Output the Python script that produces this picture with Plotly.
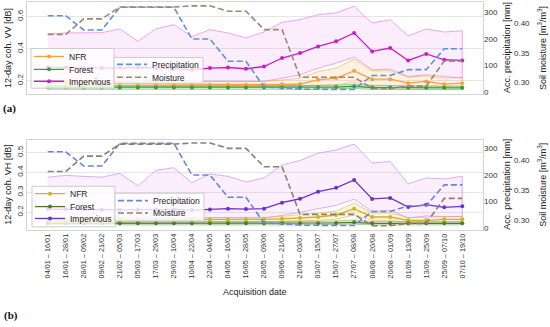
import plotly.graph_objects as go

W, H = 550, 327
FONT = "Liberation Sans, Arial, sans-serif"

categories = ["04/01 – 16/01", "16/01 – 28/01", "28/01 – 09/02", "09/02 – 21/02",
              "21/02 – 05/03", "05/03 – 17/03", "17/03 – 29/03", "29/03 – 10/04",
              "10/04 – 22/04", "22/04 – 04/05", "04/05 – 16/05", "16/05 – 28/05",
              "28/05 – 09/06", "09/06 – 21/06", "21/06 – 03/07", "03/07 – 15/07",
              "15/07 – 27/07", "27/07 – 08/08", "08/08 – 20/08", "20/08 – 01/09",
              "01/09 – 13/09", "13/09 – 25/09", "25/09 – 07/10", "07/10 – 19/10"]

precipitation = [288, 288, 234, 234, 320, 320, 320, 320, 200, 200, 116, 116,
                 18, 16, 10, 9, 9, 9, 62, 62, 84, 84, 163, 163]
moisture = [0.381, 0.381, 0.407, 0.407, 0.427, 0.427, 0.427, 0.427, 0.429, 0.429, 0.420, 0.420,
            0.389, 0.389, 0.309, 0.309, 0.309, 0.309, 0.290, 0.290, 0.294, 0.294, 0.336, 0.336]

# VV coherence (a)
vv_nfr = [0.187, 0.186, 0.185, 0.184, 0.182, 0.180, 0.179, 0.178, 0.177, 0.176, 0.175, 0.175,
          0.176, 0.178, 0.180, 0.206, 0.217, 0.262, 0.210, 0.210, 0.185, 0.196, 0.179, 0.185]
vv_nfr_hi = [0.201, 0.200, 0.200, 0.199, 0.198, 0.197, 0.196, 0.196, 0.196, 0.196, 0.195, 0.195,
             0.197, 0.205, 0.217, 0.258, 0.279, 0.335, 0.262, 0.264, 0.223, 0.231, 0.217, 0.223]
vv_nfr_lo = [0.170, 0.170, 0.169, 0.168, 0.167, 0.166, 0.166, 0.165, 0.165, 0.165, 0.164, 0.164,
             0.165, 0.166, 0.168, 0.172, 0.176, 0.190, 0.172, 0.172, 0.167, 0.170, 0.166, 0.167]
vv_forest = [0.160, 0.160, 0.159, 0.158, 0.158, 0.158, 0.158, 0.158, 0.158, 0.158, 0.158, 0.158,
             0.158, 0.159, 0.159, 0.160, 0.161, 0.166, 0.158, 0.158, 0.158, 0.156, 0.156, 0.156]
vv_forest_hi = [0.170, 0.170, 0.169, 0.168, 0.168, 0.168, 0.168, 0.168, 0.168, 0.168, 0.168, 0.168,
                0.168, 0.169, 0.170, 0.171, 0.173, 0.179, 0.169, 0.169, 0.168, 0.166, 0.166, 0.166]
vv_forest_lo = [0.148, 0.148, 0.147, 0.146, 0.146, 0.146, 0.146, 0.146, 0.146, 0.146, 0.146, 0.146,
                0.146, 0.147, 0.147, 0.148, 0.149, 0.153, 0.146, 0.146, 0.146, 0.145, 0.145, 0.145]
vv_imp = [0.285, 0.283, 0.280, 0.279, 0.281, 0.283, 0.280, 0.274, 0.269, 0.279, 0.283, 0.275,
          0.289, 0.342, 0.373, 0.414, 0.446, 0.498, 0.383, 0.404, 0.327, 0.367, 0.331, 0.327]
vv_imp_hi = [0.492, 0.498, 0.499, 0.500, 0.523, 0.446, 0.523, 0.550, 0.475, 0.519, 0.498, 0.467,
             0.504, 0.564, 0.581, 0.612, 0.623, 0.664, 0.560, 0.580, 0.480, 0.523, 0.504, 0.512]
vv_imp_lo = [0.195, 0.196, 0.196, 0.197, 0.198, 0.195, 0.196, 0.197, 0.196, 0.197, 0.198, 0.197,
             0.196, 0.217, 0.237, 0.279, 0.310, 0.348, 0.269, 0.273, 0.227, 0.237, 0.227, 0.217]

# VH coherence (b)
vh_nfr = [0.160, 0.160, 0.160, 0.160, 0.160, 0.160, 0.160, 0.160, 0.160, 0.161, 0.162, 0.162,
          0.163, 0.166, 0.170, 0.175, 0.185, 0.217, 0.175, 0.175, 0.158, 0.158, 0.163, 0.163]
vh_nfr_hi = [0.170, 0.170, 0.170, 0.170, 0.170, 0.170, 0.170, 0.170, 0.170, 0.171, 0.172, 0.172,
             0.173, 0.178, 0.185, 0.195, 0.205, 0.245, 0.195, 0.195, 0.172, 0.175, 0.178, 0.178]
vh_nfr_lo = [0.149, 0.149, 0.149, 0.149, 0.149, 0.149, 0.149, 0.149, 0.149, 0.150, 0.150, 0.150,
             0.151, 0.153, 0.155, 0.158, 0.163, 0.185, 0.158, 0.158, 0.148, 0.148, 0.151, 0.151]
vh_forest = [0.143, 0.143, 0.143, 0.143, 0.143, 0.143, 0.143, 0.143, 0.143, 0.143, 0.143, 0.143,
             0.143, 0.143, 0.143, 0.144, 0.145, 0.148, 0.143, 0.143, 0.143, 0.143, 0.143, 0.143]
vh_forest_hi = [0.151, 0.151, 0.151, 0.151, 0.151, 0.151, 0.151, 0.151, 0.151, 0.151, 0.151, 0.151,
                0.151, 0.152, 0.152, 0.153, 0.155, 0.160, 0.152, 0.152, 0.151, 0.151, 0.151, 0.151]
vh_forest_lo = [0.135, 0.135, 0.135, 0.135, 0.135, 0.135, 0.135, 0.135, 0.135, 0.135, 0.135, 0.135,
                0.135, 0.135, 0.135, 0.136, 0.137, 0.139, 0.135, 0.135, 0.135, 0.135, 0.135, 0.135]
vh_imp = [0.215, 0.215, 0.214, 0.212, 0.211, 0.212, 0.213, 0.213, 0.210, 0.213, 0.217, 0.215,
          0.217, 0.247, 0.267, 0.303, 0.322, 0.362, 0.266, 0.271, 0.225, 0.237, 0.224, 0.229]
vh_imp_hi = [0.376, 0.385, 0.380, 0.376, 0.395, 0.332, 0.410, 0.424, 0.347, 0.393, 0.380, 0.352,
             0.372, 0.438, 0.460, 0.497, 0.513, 0.543, 0.447, 0.455, 0.342, 0.372, 0.367, 0.380]
vh_imp_lo = [0.172, 0.172, 0.171, 0.171, 0.171, 0.171, 0.171, 0.171, 0.171, 0.171, 0.171, 0.171,
             0.170, 0.183, 0.198, 0.217, 0.233, 0.265, 0.203, 0.208, 0.170, 0.180, 0.177, 0.178]

idx = list(range(len(categories)))


def px(x):
    return x / W


def py(y):
    return 1 - y / H


fig = go.Figure()


def band(hi, lo, fill, edge, xa, ya):
    fig.add_trace(go.Scatter(x=idx + idx[::-1], y=hi + lo[::-1], mode="lines", fill="toself",
                             fillcolor=fill, line=dict(color=edge, width=0.8),
                             showlegend=False, hoverinfo="skip", xaxis=xa, yaxis=ya))


def mean_line(vals, name, color, xa, ya, leg):
    fig.add_trace(go.Scatter(x=idx, y=vals, mode="lines+markers", name=name,
                             line=dict(color=color, width=1.3),
                             marker=dict(color=color, size=4),
                             xaxis=xa, yaxis=ya, legend=leg))


def dashed(vals, name, color, xa, ya, leg):
    fig.add_trace(go.Scatter(x=idx, y=vals, mode="lines", name=name,
                             line=dict(color=color, width=1.6, dash="6px,3px"),
                             xaxis=xa, yaxis=ya, legend=leg))


# ---- panel (a)
A_NFR, A_FOR, A_IMP = "#f4a142", "#3a9a3a", "#c81ec8"
band(vv_imp_hi, vv_imp_lo, "rgba(230,110,230,0.12)", "rgba(232,140,232,0.95)", "x", "y")
band(vv_nfr_hi, vv_nfr_lo, "rgba(245,165,70,0.16)", "rgba(245,165,70,0.7)", "x", "y")
band(vv_forest_hi, vv_forest_lo, "rgba(60,160,60,0.16)", "rgba(60,160,60,0.6)", "x", "y")
mean_line(vv_nfr, "NFR", A_NFR, "x", "y", "legend")
mean_line(vv_forest, "Forest", A_FOR, "x", "y", "legend2")
mean_line(vv_imp, "Impervious", A_IMP, "x", "y", "legend3")
dashed(precipitation, "Precipitation", "#5d92da", "x", "y2", "legend4")
dashed(moisture, "Moisture", "#a08672", "x", "y3", "legend5")

# ---- panel (b)
B_NFR, B_FOR, B_IMP = "#c9b526", "#4c7d2c", "#6c32c8"
band(vh_imp_hi, vh_imp_lo, "rgba(225,120,235,0.12)", "rgba(205,150,240,0.95)", "x2", "y4")
band(vh_nfr_hi, vh_nfr_lo, "rgba(225,200,60,0.18)", "rgba(235,170,90,0.75)", "x2", "y4")
band(vh_forest_hi, vh_forest_lo, "rgba(100,170,70,0.18)", "rgba(100,160,70,0.6)", "x2", "y4")
mean_line(vh_nfr, "NFR", B_NFR, "x2", "y4", "legend6")
mean_line(vh_forest, "Forest", B_FOR, "x2", "y4", "legend7")
mean_line(vh_imp, "Impervious", B_IMP, "x2", "y4", "legend8")
dashed(precipitation, "Precipitation", "#6a84d8", "x2", "y5", "legend9")
dashed(moisture, "Moisture", "#937d69", "x2", "y6", "legend10")

GRID = "#e6e6e6"
FRAME = "#d4d4d4"
TICKC = "#333333"
tf = dict(family=FONT, size=8, color=TICKC)
xtf = dict(family=FONT, size=7.3, color=TICKC)
XR = [-1.15, 24.15]
XD = [px(27), px(483)]

common_x = dict(range=XR, domain=XD, showgrid=False, zeroline=False, showline=True,
                linecolor=FRAME, linewidth=1, mirror=True, ticks="", tickvals=idx,
                ticktext=categories, tickfont=xtf, tickangle=-90)
fig.update_layout(
    xaxis=dict(common_x, anchor="y", showticklabels=False),
    xaxis2=dict(common_x, anchor="y4", showticklabels=True),
    yaxis=dict(domain=[py(95), py(2)], range=[0.117, 0.691], tickvals=[0.2, 0.4, 0.6],
               ticktext=["0.2", "0.4", "0.6"], tickangle=-90, tickfont=tf, showgrid=True,
               gridcolor=GRID, zeroline=False, showline=True, linecolor=FRAME, mirror=True,
               ticks="", anchor="x"),
    yaxis2=dict(overlaying="y", side="right", anchor="x", range=[-8.6, 340],
                tickvals=[0, 100, 200, 300], tickfont=tf, showgrid=False, zeroline=False,
                ticks=""),
    yaxis3=dict(overlaying="y", side="right", anchor="free", position=px(513),
                range=[0.2805, 0.4355], tickvals=[0.30, 0.35, 0.40], tickformat=".2f",
                tickfont=tf, showgrid=False, zeroline=False, ticks="", showline=False),
    yaxis4=dict(domain=[py(232), py(141)], range=[0.11, 0.565], tickvals=[0.2, 0.3, 0.4, 0.5],
                ticktext=["0.2", "0.3", "0.4", "0.5"], tickangle=-90, tickfont=tf, showgrid=True,
                gridcolor=GRID, zeroline=False, showline=True, linecolor=FRAME, mirror=True,
                ticks="", anchor="x2"),
    yaxis5=dict(overlaying="y4", side="right", anchor="x2", range=[-7.5, 333.75],
                tickvals=[0, 100, 200, 300], tickfont=tf, showgrid=False, zeroline=False,
                ticks=""),
    yaxis6=dict(overlaying="y4", side="right", anchor="free", position=px(513),
                range=[0.283, 0.4345], tickvals=[0.30, 0.35, 0.40], tickformat=".2f",
                tickfont=tf, showgrid=False, zeroline=False, ticks="", showline=False),
)

# legends: one per entry so the rows sit as tightly as in the original
legfont = dict(family=FONT, size=8.5, color="#222222")
leg_specs = {
    "legend": (29, 57), "legend2": (29, 70), "legend3": (29, 82),
    "legend4": (112, 65), "legend5": (112, 78),
    "legend6": (30, 195.5), "legend7": (30, 208.5), "legend8": (30, 220.5),
    "legend9": (113, 202.5), "legend10": (113, 215),
}
for name, (lx, ly) in leg_specs.items():
    fig.update_layout({name: dict(x=px(lx), y=py(ly), xanchor="left", yanchor="middle",
                                  bgcolor="rgba(0,0,0,0)", borderwidth=0, font=legfont,
                                  itemwidth=30)})

boxes = [(31, 49, 114, 89), (114, 58, 203, 84), (32, 188, 115, 229), (115, 195, 204, 223)]
for x0, y0, x1, y1 in boxes:
    fig.add_shape(type="rect", xref="paper", yref="paper", x0=px(x0), x1=px(x1),
                  y0=py(y1), y1=py(y0), fillcolor="rgba(255,255,255,0.8)",
                  line=dict(color="#cccccc", width=1), layer="above")

tfont = dict(family=FONT, size=9, color="#222222")
ann = [
    ("12-day coh. VV [dB]", 8, 48.5, -90),
    ("Acc. precipitation [mm]", 507, 48.5, -90),
    ("Soil moisture [m<sup>3</sup>/m<sup>3</sup>]", 542, 48.5, -90),
    ("12-day coh. VH [dB]", 8, 186.5, -90),
    ("Acc. precipitation [mm]", 507, 186.5, -90),
    ("Soil moisture [m<sup>3</sup>/m<sup>3</sup>]", 542, 186.5, -90),
    ("Acquisition date", 255, 295, 0),
]
for text, x, y, ang in ann:
    fig.add_annotation(text=text, x=px(x), y=py(y), xref="paper", yref="paper",
                       showarrow=False, textangle=ang, font=tfont,
                       xanchor="center", yanchor="middle")
for text, x, y in [("(a)", 9, 110), ("(b)", 11, 318)]:
    fig.add_annotation(text="<b>" + text + "</b>", x=px(x), y=py(y), xref="paper", yref="paper",
                       showarrow=False, font=dict(family="Liberation Serif, serif", size=11,
                                                  color="#111111"),
                       xanchor="center", yanchor="middle")

fig.update_layout(width=W, height=H, margin=dict(l=0, r=0, t=0, b=0),
                  paper_bgcolor="white", plot_bgcolor="white", hovermode=False,
                  font=dict(family=FONT, size=8.5))

fig.write_html("out.html", config={"displayModeBar": False},
               post_script="document.body.style.margin='0px';")
